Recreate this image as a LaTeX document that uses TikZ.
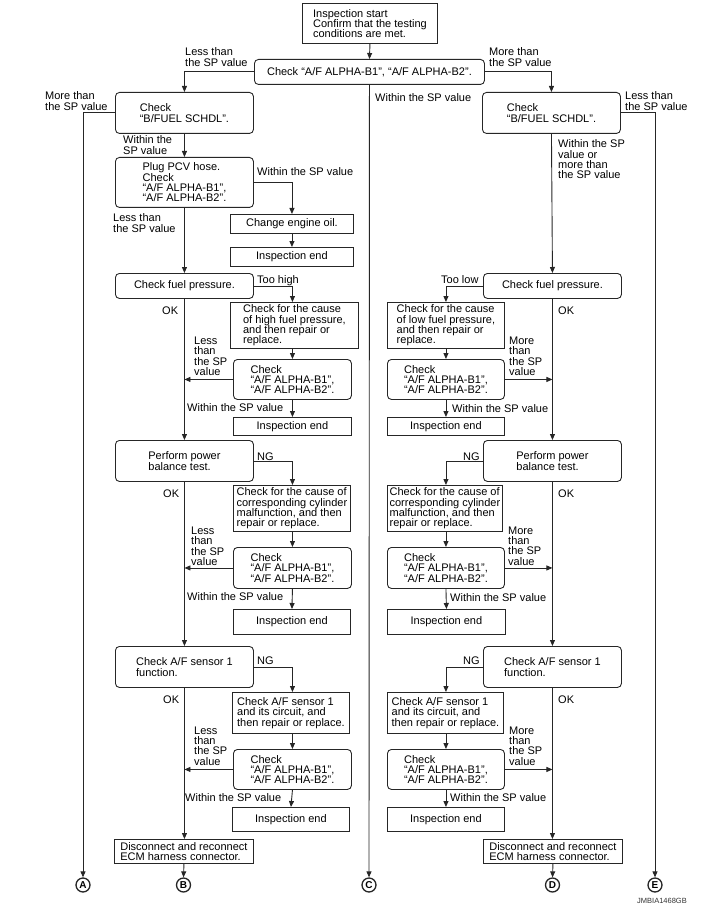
\documentclass[tikz,border=0pt]{standalone}
\usepackage{fontspec}
\setmainfont{Liberation Sans}
\usetikzlibrary{arrows.meta}
\begin{document}
\begin{tikzpicture}[x=1pt,y=-1pt,
  every node/.style={font=\fontsize{11}{10.3}\selectfont},
  line/.style={draw=black!85, line width=0.9pt},
  arr/.style={line, -{Triangle[length=6pt,width=5pt]}},
  sbox/.style={draw=black!85, line width=0.9pt, anchor=north west, inner xsep=1pt, inner ysep=0pt, align=left},
  rbox/.style={sbox, rounded corners=4pt},
  lbl/.style={anchor=base west, inner sep=0pt, align=left},
  circ/.style={circle, draw=black!85, line width=1.3pt, minimum size=14pt, inner sep=0pt, font=\fontsize{10}{10}\bfseries\selectfont}
]
\useasboundingbox (0,0) rectangle (716,909);

% ---- top ----
\node[sbox, minimum width=135pt, minimum height=40pt] (start) at (302,3) {Inspection start\\Confirm that the testing\\conditions are met.};
\node[rbox, align=center, minimum width=230pt, minimum height=25pt] (chk) at (254,59) {Check “A/F ALPHA-B1”, “A/F ALPHA-B2”.};
\node[rbox, minimum width=138pt, minimum height=41pt] (lbf) at (115,92) {Check\\“B/FUEL SCHDL”.};
\node[rbox, minimum width=138pt, minimum height=41pt] (rbf) at (482,92) {Check\\“B/FUEL SCHDL”.};
\node[rbox, minimum width=138pt, minimum height=50pt] (pcv) at (115,157) {Plug PCV hose.\\Check\\“A/F ALPHA-B1”,\\“A/F ALPHA-B2”.};
\node[sbox, align=center, minimum width=123pt, minimum height=19pt] (oil) at (230,214) {Change engine oil.};
\node[sbox, align=center, minimum width=123pt, minimum height=19pt] (end0) at (230,247) {Inspection end};

% ---- fuel pressure ----
\node[rbox, align=center, minimum width=138pt, minimum height=25pt] (lfp) at (115,273) {Check fuel pressure.};
\node[rbox, align=center, minimum width=138pt, minimum height=25pt] (rfp) at (483,273) {Check fuel pressure.};
\node[sbox, minimum width=128pt, minimum height=46pt] (lhigh) at (230,302) {Check for the cause\\of high fuel pressure,\\and then repair or\\replace.};
\node[sbox, minimum width=117pt, minimum height=46pt] (rlow) at (387,302) {Check for the cause\\of low fuel pressure,\\and then repair or\\replace.};
\node[rbox, minimum width=118pt, minimum height=40pt] (lchk1) at (233,359) {Check\\“A/F ALPHA-B1”,\\“A/F ALPHA-B2”.};
\node[rbox, minimum width=117pt, minimum height=40pt] (rchk1) at (387,359) {Check\\“A/F ALPHA-B1”,\\“A/F ALPHA-B2”.};
\node[sbox, align=center, minimum width=118pt, minimum height=18pt] (lend1) at (233,417) {Inspection end};
\node[sbox, align=center, minimum width=117pt, minimum height=18pt] (rend1) at (387,417) {Inspection end};

% ---- power balance ----
\node[rbox, minimum width=138pt, minimum height=41pt] (lpb) at (115,440) {Perform power\\balance test.};
\node[rbox, minimum width=138pt, minimum height=41pt] (rpb) at (483,440) {Perform power\\balance test.};
\node[sbox, minimum width=117pt, minimum height=46pt] (lcyl) at (233,485) {Check for the cause of\\corresponding cylinder\\malfunction, and then\\repair or replace.};
\node[sbox, minimum width=115pt, minimum height=46pt] (rcyl) at (387,485) {Check for the cause of\\corresponding cylinder\\malfunction, and then\\repair or replace.};
\node[rbox, minimum width=118pt, minimum height=41pt] (lchk2) at (233,547) {Check\\“A/F ALPHA-B1”,\\“A/F ALPHA-B2”.};
\node[rbox, minimum width=117pt, minimum height=41pt] (rchk2) at (387,547) {Check\\“A/F ALPHA-B1”,\\“A/F ALPHA-B2”.};
\node[sbox, align=center, minimum width=117pt, minimum height=25pt] (lend2) at (233,609) {Inspection end};
\node[sbox, align=center, minimum width=118pt, minimum height=25pt] (rend2) at (387,609) {Inspection end};

% ---- sensor ----
\node[rbox, minimum width=138pt, minimum height=41pt] (lsen) at (115,646) {Check A/F sensor 1\\function.};
\node[rbox, minimum width=138pt, minimum height=41pt] (rsen) at (483,646) {Check A/F sensor 1\\function.};
\node[sbox, minimum width=117pt, minimum height=41pt] (lsc) at (232,692) {Check A/F sensor 1\\and its circuit, and\\then repair or replace.};
\node[sbox, minimum width=116pt, minimum height=41pt] (rsc) at (387,692) {Check A/F sensor 1\\and its circuit, and\\then repair or replace.};
\node[rbox, minimum width=118pt, minimum height=40pt] (lchk3) at (233,749) {Check\\“A/F ALPHA-B1”,\\“A/F ALPHA-B2”.};
\node[rbox, minimum width=117pt, minimum height=40pt] (rchk3) at (387,749) {Check\\“A/F ALPHA-B1”,\\“A/F ALPHA-B2”.};
\node[sbox, align=center, minimum width=117pt, minimum height=24pt] (lend3) at (232,807) {Inspection end};
\node[sbox, align=center, minimum width=117pt, minimum height=24pt] (rend3) at (387,807) {Inspection end};
\node[sbox, minimum width=139pt, minimum height=24pt] (ldis) at (114,839) {Disconnect and reconnect\\ECM harness connector.};
\node[sbox, minimum width=139pt, minimum height=24pt] (rdis) at (483,839) {Disconnect and reconnect\\ECM harness connector.};

% ---- terminals ----
\node[circ] (A) at (83,885) {A};
\node[circ] (B) at (183.5,885) {B};
\node[circ] (C) at (369,885) {C};
\node[circ] (D) at (552.5,885) {D};
\node[circ] (E) at (655,885) {E};

% ---- connectors ----
\draw[arr] (start.south) -- (chk.north);
\draw[arr] (chk.west) -| (lbf.north);
\draw[arr] (chk.east) -| (rbf.north);
\draw[arr] (chk.south) -- (C.north);
\draw[arr] (lbf.west) -| (A.north);
\draw[arr] (rbf.east) -| (E.north);
\draw[arr] (lbf.south) -- (pcv.north);
\draw[arr] (pcv.east) -| (oil.north);
\draw[arr] (oil.south) -- (end0.north);
\draw[arr] (pcv.south) -- (lfp.north);
\draw[arr] (rbf.south) -- (rfp.north);

\draw[arr] (lfp.east) -| (lhigh.north -| lchk1.north);
\draw[arr] (lhigh.south -| lchk1.north) -- (lchk1.north);
\draw[arr] (lchk1.west) -- (lchk1.west -| lfp.south);
\draw[arr] (lchk1.south) -- (lend1.north);
\draw[arr] (lfp.south) -- (lpb.north);

\draw[arr] (rfp.west) -| (rlow.north -| rchk1.north);
\draw[arr] (rlow.south -| rchk1.north) -- (rchk1.north);
\draw[arr] (rchk1.east) -- (rchk1.east -| rfp.south);
\draw[arr] (rchk1.south) -- (rend1.north);
\draw[arr] (rfp.south) -- (rpb.north);

\draw[arr] (lpb.east) -| (lcyl.north -| lchk2.north);
\draw[arr] (lcyl.south -| lchk2.north) -- (lchk2.north);
\draw[arr] (lchk2.west) -- (lchk2.west -| lpb.south);
\draw[arr] (lchk2.south) -- (lend2.north);
\draw[arr] (lpb.south) -- (lsen.north);

\draw[arr] (rpb.west) -| (rcyl.north -| rchk2.north);
\draw[arr] (rcyl.south -| rchk2.north) -- (rchk2.north);
\draw[arr] (rchk2.east) -- (rchk2.east -| rpb.south);
\draw[arr] (rchk2.south) -- (rend2.north);
\draw[arr] (rpb.south) -- (rsen.north);

\draw[arr] (lsen.east) -| (lsc.north -| lchk3.north);
\draw[arr] (lsc.south -| lchk3.north) -- (lchk3.north);
\draw[arr] (lchk3.west) -- (lchk3.west -| lsen.south);
\draw[arr] (lchk3.south) -- (lend3.north);
\draw[arr] (lsen.south) -- (lsen.south |- ldis.north);
\draw[arr] (ldis.south) -- (B.north);

\draw[arr] (rsen.west) -| (rsc.north -| rchk3.north);
\draw[arr] (rsc.south -| rchk3.north) -- (rchk3.north);
\draw[arr] (rchk3.east) -- (rchk3.east -| rsen.south);
\draw[arr] (rchk3.south) -- (rend3.north);
\draw[arr] (rsen.south) -- (rsen.south |- rdis.north);
\draw[arr] (rdis.south) -- (D.north);

% ---- labels (y = baseline of last line) ----
\node[lbl] (t1) at (185,66.3) {Less than\\the SP value};
\node[lbl] (t2) at (489,66.3) {More than\\the SP value};
\node[lbl] (t3) at (45,110.3) {More than\\the SP value};
\node[lbl] (t4) at (375,102) {Within the SP value};
\node[lbl] (t5) at (625,110.3) {Less than\\the SP value};
\node[lbl] (t6) at (123,154.3) {Within the\\SP value};
\node[lbl] (t7) at (558,178.9) {Within the SP\\value or\\more than\\the SP value};
\node[lbl] (t8) at (257,176) {Within the SP value};
\node[lbl] (t9) at (113,232.3) {Less than\\the SP value};
\node[lbl] (t10) at (257,283) {Too high};
\node[lbl] (t11) at (441,283) {Too low};
\node[lbl] (t12) at (162,314) {OK};
\node[lbl] (t13) at (558,314) {OK};
\node[lbl] (t14) at (194,375.5) {Less\\than\\the SP\\value};
\node[lbl] (t15) at (509,375.5) {More\\than\\the SP\\value};
\node[lbl] (t16) at (187,411) {Within the SP value};
\node[lbl] (t17) at (452,412) {Within the SP value};
\node[lbl] (t18) at (257,460) {NG};
\node[lbl] (t19) at (463,460) {NG};
\node[lbl] (t20) at (163,497) {OK};
\node[lbl] (t21) at (558,497) {OK};
\node[lbl] (t22) at (191,565.5) {Less\\than\\the SP\\value};
\node[lbl] (t23) at (508,565) {More\\than\\the SP\\value};
\node[lbl] (t24) at (187,600) {Within the SP value};
\node[lbl] (t25) at (450,601) {Within the SP value};
\node[lbl] (t26) at (257,664) {NG};
\node[lbl] (t27) at (463,664) {NG};
\node[lbl] (t28) at (163,703) {OK};
\node[lbl] (t29) at (558,703) {OK};
\node[lbl] (t30) at (194,765) {Less\\than\\the SP\\value};
\node[lbl] (t31) at (509,765) {More\\than\\the SP\\value};
\node[lbl] (t32) at (185,801) {Within the SP value};
\node[lbl] (t33) at (450,801) {Within the SP value};
\node[lbl, font=\fontsize{7.5}{7.5}\selectfont, text=black!80] (code) at (637,903) {JMBIA1468GB};
\end{tikzpicture}
\end{document}
